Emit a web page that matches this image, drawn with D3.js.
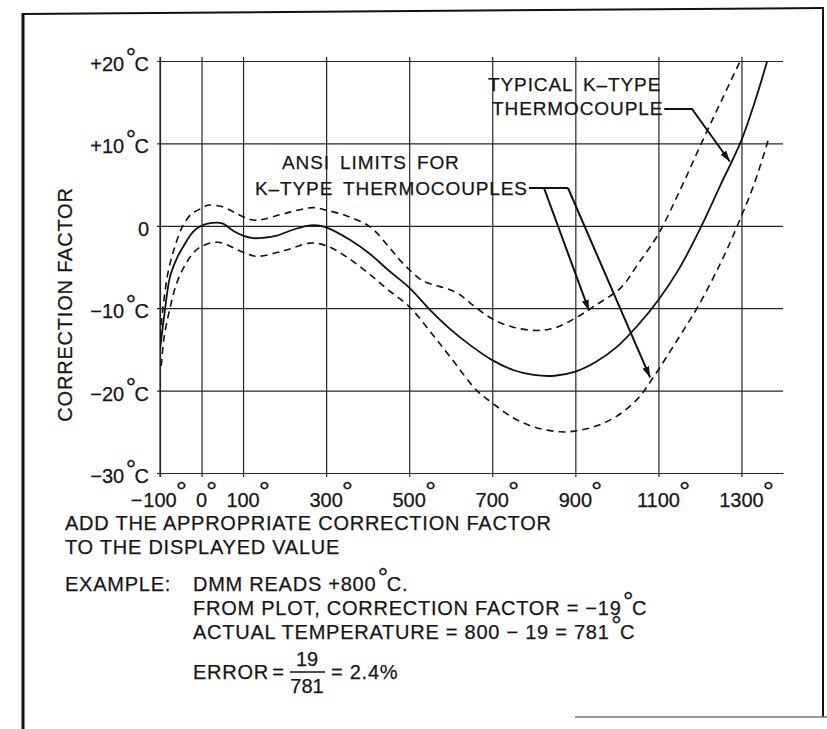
<!DOCTYPE html>
<html>
<head>
<meta charset="utf-8">
<script src="https://cdn.jsdelivr.net/npm/d3@7"></script>
<style>
  body { margin: 0; background: #fff; }
  svg { display: block; }
  text { font-family: 'Liberation Sans', Arial, Helvetica, sans-serif; fill: #161616; stroke: #161616; stroke-width: 0.25; }
  .grid line, .grid path { stroke: #262626; stroke-width: 1.2; }
</style>
</head>
<body>
<div id="chart"></div>
<script>
// axis ticks (deg C)
const tempTicks = [-100, 0, 100, 300, 500, 700, 900, 1100, 1300]
const corrTicks = [20, 10, 0, -10, -20, -30]

// typical K-type thermocouple correction (solid)
const typicalTemp = [-100, -90, -76, -60, -45, -20, 0, 25, 50, 76, 100, 124, 150, 181, 213, 254, 280, 300, 357, 405, 450, 500, 550, 600, 650, 700, 750, 800, 850, 900, 950, 1000, 1050, 1100, 1150, 1200, 1250, 1300, 1335, 1362]
const typicalCorr = [-15, -11, -6.2, -4.0, -2.6, -0.7, 0, 0.35, 0.3, -0.6, -1.2, -1.5, -1.45, -1.2, -0.6, 0, 0.05, -0.2, -1.7, -3.4, -5.4, -7.5, -10.2, -12.6, -14.6, -16.3, -17.5, -18.1, -18.2, -17.7, -16.5, -14.7, -12.1, -9.0, -5.2, -0.4, 5.0, 10.4, 15.5, 20]

// ANSI limits (dashed)
const upperTemp = [-100, -93, -80, -64, -45, -23, 0, 15, 50, 100, 124, 150, 200, 268, 300, 350, 405, 450, 478, 500, 530, 560, 590, 620, 650, 700, 750, 807, 850, 900, 950, 1010, 1050, 1100, 1150, 1207, 1250, 1297]
const upperCorr = [-13.5, -10, -5.5, -2.5, 0, 1.5, 2.1, 2.5, 2.3, 1.1, 0.7, 0.8, 1.5, 2.2, 1.9, 1.2, -0.1, -2.5, -4.2, -5.3, -6.6, -7.2, -7.6, -8.3, -9.5, -11.3, -12.3, -12.7, -12.4, -11.2, -9.6, -7.5, -4.7, -1.0, 4.1, 10.4, 15.0, 20]
const lowerTemp = [-97, -90, -76, -60, -40, -20, 0, 40, 100, 133, 200, 261, 300, 350, 405, 450, 500, 550, 600, 663, 700, 750, 800, 863, 900, 950, 1000, 1050, 1085, 1150, 1193, 1250, 1290, 1330, 1365]
const lowerCorr = [-17, -13.5, -10, -7, -4.8, -3.3, -2.5, -2.0, -3.2, -3.7, -3.0, -2.1, -2.4, -3.8, -5.9, -7.8, -9.8, -12.8, -16.0, -20.0, -21.5, -23.3, -24.4, -25.0, -24.9, -24.3, -23.1, -21.0, -18.6, -13.5, -10, -4.5, 0, 5, 10.5]

const noteLines = [
  'ADD THE APPROPRIATE CORRECTION FACTOR',
  'TO THE DISPLAYED VALUE'
]
const exampleLines = [
  'DMM READS +800°C.',
  'FROM PLOT, CORRECTION FACTOR = −19°C',
  'ACTUAL TEMPERATURE = 800 − 19 = 781°C'
]

const width = 827
const height = 729
const plot = {left: 160, right: 783, top: 61, bottom: 473}
const fs = 20

let svg = d3.select('#chart').append('svg').attr('width', width).attr('height', height)

let x = d3.scaleLinear().domain([-100, 1400]).range([plot.left, plot.right])
let y = d3.scaleLinear().domain([-30, 20]).range([plot.bottom, plot.top])

// writes a string into a text node, raising every degree sign
function withDegrees (text, str, size = fs) {
  str.split('°').forEach((p, i) => {
    if (i > 0) {
      text.append('tspan').attr('font-size', size * 1.3).attr('dy', -size * 0.25).attr('dx', 1.5).attr('letter-spacing', 0).text('°')
      text.append('tspan').attr('font-size', size).attr('dy', size * 0.25).attr('dx', -1.5).text(p)
    } else {
      text.append('tspan').text(p)
    }
  })
  return text
}

// frame
let frame = svg.append('g').attr('stroke', '#111').attr('fill', 'none')
frame.append('line').attr('x1', 23).attr('y1', 13).attr('x2', 23).attr('y2', height).attr('stroke-width', 3)
frame.append('line').attr('x1', 22).attr('y1', 14).attr('x2', 824).attr('y2', 8).attr('stroke-width', 2)
frame.append('line').attr('x1', 823).attr('y1', 8).attr('x2', 823).attr('y2', 717).attr('stroke-width', 2)
frame.append('line').attr('x1', 575).attr('y1', 717).attr('x2', width).attr('y2', 717).attr('stroke-width', 1.5).attr('stroke', '#777')

// grid via axes
let plotW = plot.right - plot.left
let plotH = plot.bottom - plot.top
let xAxis = svg.append('g').attr('class', 'grid').attr('transform', `translate(0,${plot.bottom})`)
  .call(d3.axisBottom(x).tickValues(tempTicks).tickSizeOuter(0).tickFormat(''))
xAxis.selectAll('.tick line').attr('y1', 4).attr('y2', -plotH - 4)
let yAxis = svg.append('g').attr('class', 'grid').attr('transform', `translate(${plot.left},0)`)
  .call(d3.axisLeft(y).tickValues(corrTicks).tickSizeOuter(0).tickFormat(''))
yAxis.selectAll('.tick line').attr('x1', -3).attr('x2', plotW)
yAxis.select('.domain').attr('d', `M0,${plot.top - 4}V${plot.bottom + 4}`)

// x tick labels: number centred on the grid line, degree raised to its right
tempTicks.forEach(t => {
  let num = svg.append('text').attr('x', x(t)).attr('y', 507).attr('text-anchor', 'middle')
    .attr('font-size', fs).text(Math.abs(t))
  let bb = num.node().getBBox()
  if (t < 0) {
    svg.append('text').attr('x', bb.x - 1).attr('y', 507).attr('text-anchor', 'end')
      .attr('font-size', fs).text('−')
  }
  svg.append('text').attr('x', bb.x + bb.width - 1).attr('y', 507 - fs * 0.3)
    .attr('font-size', fs * 1.4).text('°')
})

// y tick labels
corrTicks.forEach(v => {
  let t = svg.append('text').attr('x', 149).attr('y', y(v) + 10).attr('text-anchor', 'end').attr('font-size', fs)
  if (v === 0) t.text('0')
  else withDegrees(t, `${v > 0 ? '+' : '−'}${Math.abs(v)}°C`)
})

svg.append('text').attr('transform', `translate(72,${(187 + 422) / 2}) rotate(-90)`)
  .attr('text-anchor', 'middle').attr('font-size', fs).attr('letter-spacing', 0.8)
  .text('CORRECTION FACTOR')

// curves
svg.append('clipPath').attr('id', 'plotClip').append('rect')
  .attr('x', plot.left).attr('y', plot.top).attr('width', plotW).attr('height', plotH)
let line = d3.line().x(d => x(d[0])).y(d => y(d[1])).curve(d3.curveCatmullRom.alpha(0.5))
let curves = svg.append('g').attr('clip-path', 'url(#plotClip)').attr('fill', 'none').attr('stroke', '#111')
curves.append('path').datum(d3.zip(upperTemp, upperCorr)).attr('d', line)
  .attr('stroke-width', 1.6).attr('stroke-dasharray', '7,5')
curves.append('path').datum(d3.zip(lowerTemp, lowerCorr)).attr('d', line)
  .attr('stroke-width', 1.6).attr('stroke-dasharray', '7,5')
curves.append('path').datum(d3.zip(typicalTemp, typicalCorr)).attr('d', line)
  .attr('stroke-width', 1.8)

// annotations with leader arrows
svg.append('defs').append('marker').attr('id', 'arrow')
  .attr('markerUnits', 'userSpaceOnUse').attr('markerWidth', 12).attr('markerHeight', 8)
  .attr('refX', 11).attr('refY', 3.5).attr('orient', 'auto')
  .append('path').attr('d', 'M0,0L11,3.5L0,7Z').attr('fill', '#111')

function note (lines, tx, ty) {
  let ends = lines.map((s, i) => {
    let t = svg.append('text').attr('x', tx[i]).attr('y', ty[i]).attr('font-size', 19)
      .attr('letter-spacing', 0.9).attr('word-spacing', 4).text(s)
    return tx[i] + t.node().getBBox().width
  })
  return ends[ends.length - 1]
}
let leader = svg.append('g').attr('fill', 'none').attr('stroke', '#111').attr('stroke-width', 2)

let typEnd = note(['TYPICAL K–TYPE', 'THERMOCOUPLE'], [488, 492], [91, 115])
leader.append('path').attr('marker-end', 'url(#arrow)')
  .attr('d', d3.line()([[typEnd + 1, 109], [692, 109], [x(1272), y(7.8)]]))

let ansiEnd = note(['ANSI LIMITS FOR', 'K–TYPE THERMOCOUPLES'], [282, 255], [169, 195])
leader.append('path').attr('d', d3.line()([[ansiEnd + 1, 188], [568, 188]]))
leader.append('path').attr('marker-end', 'url(#arrow)')
  .attr('d', d3.line()([[544, 188], [x(933), y(-10.3)]]))
leader.append('path').attr('marker-end', 'url(#arrow)')
  .attr('d', d3.line()([[568, 188], [x(1080), y(-18.4)]]))

// explanation text
let body = (sx, sy) => svg.append('text').attr('x', sx).attr('y', sy).attr('font-size', fs).attr('letter-spacing', 0.75)
noteLines.forEach((s, i) => body(65, 530 + i * 24).text(s))
body(65, 591).text('EXAMPLE:')
exampleLines.forEach((s, i) => withDegrees(body(193, 591 + i * 24), s))
body(193, 679).attr('word-spacing', -3).text('ERROR =')
svg.append('text').attr('x', 307).attr('y', 666).attr('text-anchor', 'middle').attr('font-size', fs).text('19')
svg.append('line').attr('x1', 290).attr('x2', 325).attr('y1', 672).attr('y2', 672).attr('stroke', '#111').attr('stroke-width', 1.5)
svg.append('text').attr('x', 307).attr('y', 693).attr('text-anchor', 'middle').attr('font-size', fs).text('781')
body(331, 679).text('= 2.4%')
</script>
</body>
</html>
